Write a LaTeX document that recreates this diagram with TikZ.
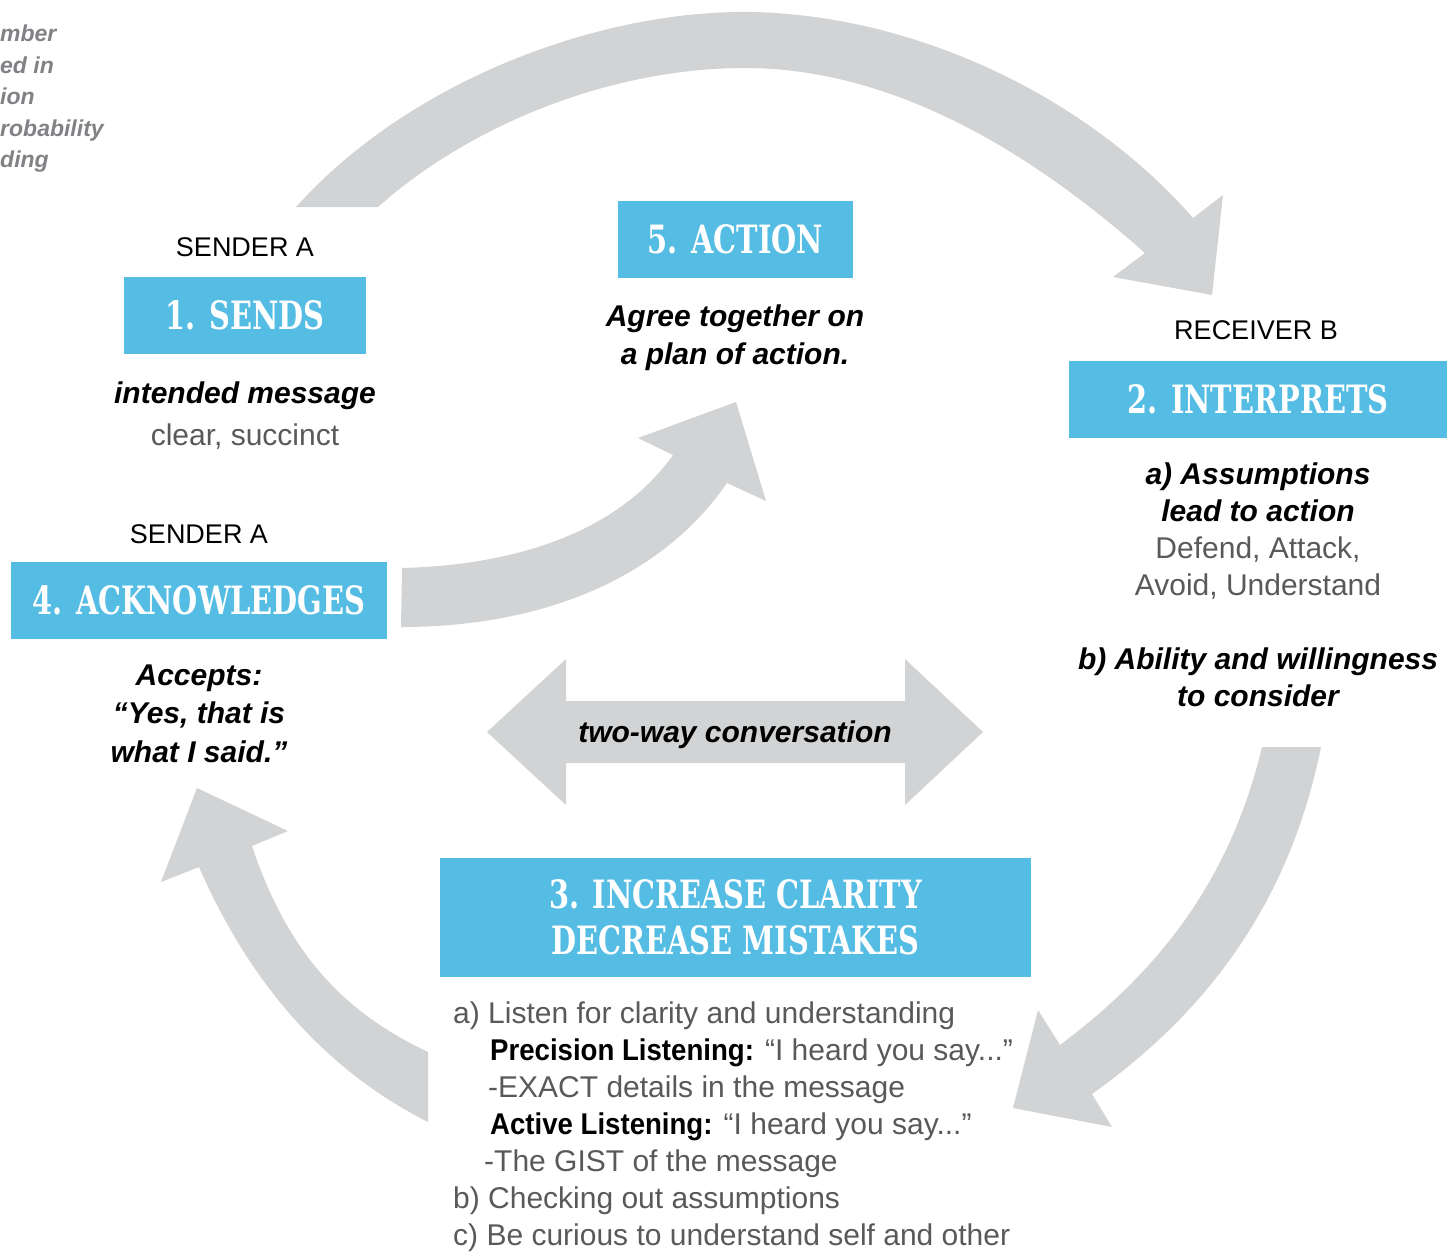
\documentclass[tikz,border=0pt]{standalone}
\usepackage{fontspec}
\setmainfont{Liberation Sans}
\newfontfamily\slabfont[FakeStretch=0.74]{DejaVu Serif}
\newfontfamily\medfont[FakeStretch=0.92]{Liberation Sans}
\definecolor{boxblue}{HTML}{55BCE3}
\definecolor{arrowgray}{HTML}{D1D3D4}
\definecolor{textgray}{HTML}{58595B}
\definecolor{notegray}{HTML}{808285}
\newcommand{\bitext}[1]{{\bfseries\itshape #1}}
\newcommand{\keyterm}[1]{{\color{black}\medfont\bfseries #1}}

\begin{document}
\begin{tikzpicture}[x=1pt,y=-1pt,
  stepbox/.style={fill=boxblue, text=white, inner sep=0pt, align=center,
    font=\slabfont\bfseries\fontsize{39}{46}\selectfont},
  role/.style={inner sep=0pt, anchor=base, font=\fontsize{27}{32}\selectfont},
  heading/.style={inner sep=0pt, align=center, font=\bfseries\itshape\fontsize{30}{38}\selectfont},
  body/.style={inner sep=0pt, align=center, text=textgray, font=\fontsize{30}{37}\selectfont},
  mixed/.style={inner sep=0pt, align=center, font=\fontsize{30}{37}\selectfont},
  note/.style={inner sep=0pt, align=left, text=notegray,
    font=\bfseries\itshape\fontsize{23}{31.5}\selectfont},
  flow/.style={fill=arrowgray, draw=none}]

\useasboundingbox (0,0) rectangle (1447,1251);

% side note, running off the left edge
\node[note, anchor=north west] (note) at (0,25) {mber\\ed in\\ion\\robability\\ding};

% large arc: sending over to the receiver
\fill[flow] (296,207) .. controls (410,80) and (600,10) .. (750,12)
  .. controls (920,15) and (1090,100) .. (1193,218)
  -- (1223,195) -- (1212,295) -- (1113,277) -- (1145,253)
  .. controls (1040,160) and (900,68) .. (745,68)
  .. controls (610,68) and (470,125) .. (378,207) -- cycle;

% acknowledging leads on to action
\fill[flow] (402,568) .. controls (520,565) and (620,530) .. (673,455)
  -- (638,438) -- (736,402) -- (766,501) -- (727,483)
  .. controls (660,580) and (540,627) .. (401,627) -- cycle;

% two-way conversation
\fill[flow] (487,732) -- (566,659) -- (566,701) -- (905,701) -- (905,659)
  -- (983,732) -- (905,805) -- (905,763) -- (566,763) -- (566,805) -- cycle;

% interpreting feeds into clarity
\fill[flow] (1262,747) -- (1321,747)
  .. controls (1290,900) and (1210,1010) .. (1092,1094)
  -- (1112,1127) -- (1013,1108) -- (1038,1010) -- (1060,1045)
  .. controls (1160,970) and (1230,880) .. (1262,747) -- cycle;

% clarity returns to the sender
\fill[flow] (428,1052) .. controls (350,1015) and (290,960) .. (252,846)
  -- (288,831) -- (197,788) -- (161,882) -- (199,867)
  .. controls (255,995) and (335,1075) .. (428,1122) -- cycle;

% step boxes
\node[stepbox, minimum width=242pt, minimum height=77pt] (sends) at (245,315.5) {1. SENDS};
\node[stepbox, minimum width=235pt, minimum height=77pt] (action) at (735.5,239.5) {5. ACTION};
\node[stepbox, minimum width=378pt, minimum height=77pt] (interp) at (1258,399.5) {2. INTERPRETS};
\node[stepbox, minimum width=376pt, minimum height=77pt] (ack) at (199,600.5) {4. ACKNOWLEDGES};
\node[stepbox, minimum width=591pt, minimum height=119pt] (clarity) at (735.5,917.5)
  {3. INCREASE CLARITY\\DECREASE MISTAKES};

% roles
\node[role] (senderA) at (245,256) {SENDER A};
\node[role] (senderB) at (199,543) {SENDER A};
\node[role] (receiver) at (1256,339) {RECEIVER B};

% step 1
\node[heading, anchor=base] (intended) at (245,403) {intended message};
\node[body, anchor=base] (clear) at (245,445) {clear, succinct};

% step 5
\node[heading] (agree) at (735,338) {Agree together on\\a plan of action.};

% step 2
\node[mixed] (interpnote) at (1258,585)
  {\bitext{a) Assumptions}\\
   \bitext{lead to action}\\
   \textcolor{textgray}{Defend, Attack,}\\
   \textcolor{textgray}{Avoid, Understand}\\[37pt]
   \bitext{b) Ability and willingness}\\
   \bitext{to consider}};

% step 4
\node[heading, font=\bfseries\itshape\fontsize{30}{38.5}\selectfont] (accepts) at (199,713.5)
  {Accepts:\\“Yes, that is\\what I said.”};

% centre
\node[heading, anchor=base] (twoway) at (735,742) {two-way conversation};

% step 3
\node[body, align=left, anchor=north west] (listen) at (453,1002)
  {a) Listen for clarity and understanding\\
   \hspace*{37pt}\keyterm{Precision Listening:} “I heard you say...”\\
   \hspace*{35pt}-EXACT details in the message\\
   \hspace*{37pt}\keyterm{Active Listening:} “I heard you say...”\\
   \hspace*{31pt}-The GIST of the message\\
   b) Checking out assumptions\\
   c) Be curious to understand self and other};

\end{tikzpicture}
\end{document}
